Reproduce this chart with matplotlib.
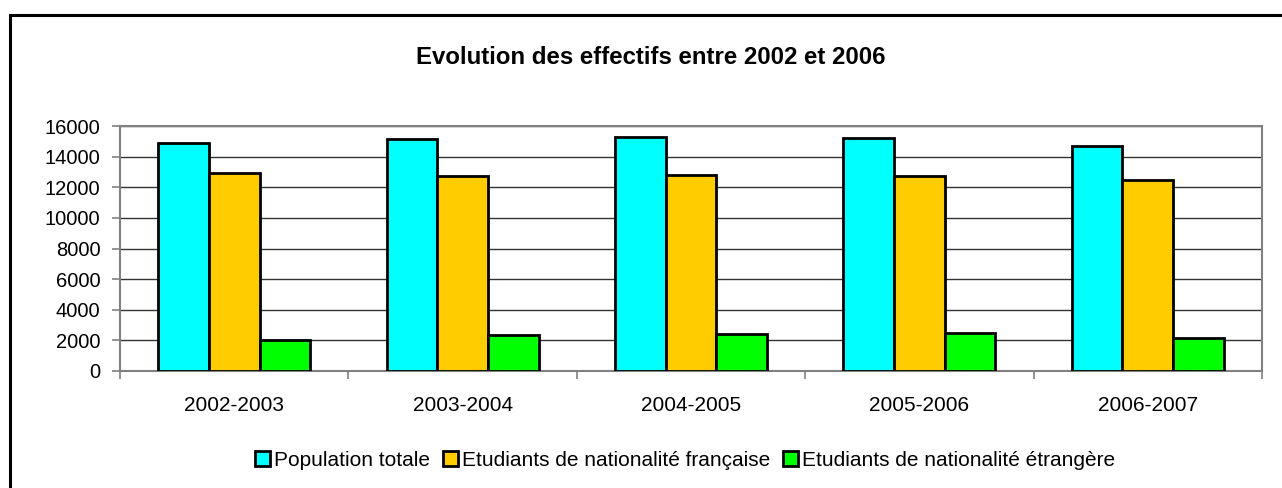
import matplotlib
matplotlib.use("Agg")
import matplotlib.pyplot as plt
import numpy as np
from matplotlib.patches import Rectangle

plt.rcParams['font.family'] = ['Liberation Sans', 'DejaVu Sans']

annees = ["2002-2003", "2003-2004", "2004-2005", "2005-2006", "2006-2007"]
population_totale = [14900, 15130, 15280, 15200, 14700]
etudiants_francais = [12900, 12750, 12800, 12750, 12500]
etudiants_etrangers = [2000, 2330, 2400, 2460, 2180]

series = ["Population totale", "Etudiants de nationalité française",
          "Etudiants de nationalité étrangère"]
couleurs = ["#00FFFF", "#FFCC00", "#00FF00"]

fig = plt.figure(figsize=(12.82, 4.88), dpi=100)
ax = fig.add_axes([120 / 1282, 1 - 371 / 488, (1262 - 120) / 1282, (371 - 126) / 488])

# barres groupées
x = np.arange(len(annees))
w = 0.222
for i, (vals, nom, c) in enumerate(zip([population_totale, etudiants_francais, etudiants_etrangers], series, couleurs)):
    ax.bar(x + (i - 1) * w, vals, width=w, color=c, edgecolor="black", linewidth=2, label=nom, zorder=3)

ax.set_xlim(-0.5, len(annees) - 0.5)
ax.set_ylim(0, 16000)
ax.set_yticks(np.arange(0, 16001, 2000))

# grille
ax.yaxis.grid(True, color="#333333", linewidth=1, zorder=0)
ax.set_axisbelow(True)
for spine in ax.spines.values():
    spine.set_color("#808080")
    spine.set_linewidth(1.5)

# axes et ticks
ax.set_xticks(x)
ax.set_xticklabels(annees)
ax.set_xticks(np.arange(-0.5, len(annees), 1), minor=True)
ax.tick_params(axis='x', which='major', length=0, pad=18, labelsize=15)
ax.tick_params(axis='x', which='minor', length=6, width=1.2, color="#808080", direction='out')
ax.tick_params(axis='y', length=6, width=1.2, color="#808080", pad=8, labelsize=14.5)

# titre
fig.text(651 / 1282, 1 - 64 / 488, "Evolution des effectifs entre 2002 et 2006",
         ha='center', va='baseline', fontsize=17.3, fontweight='bold')

# légende
fig.legend(loc='center', bbox_to_anchor=(685 / 1282, 1 - 460 / 488), ncol=3, frameon=False,
           fontsize=15, handlelength=0.72, handleheight=0.72, handletextpad=0.2,
           columnspacing=0.62, borderpad=0)

# cadre du graphique
fig.patches.append(Rectangle((10 / 1282, -0.2), 1.2, 1.2 - 15 / 488, transform=fig.transFigure,
                             fill=False, edgecolor="black", linewidth=2.2))

fig.savefig("out.png", dpi=100)
